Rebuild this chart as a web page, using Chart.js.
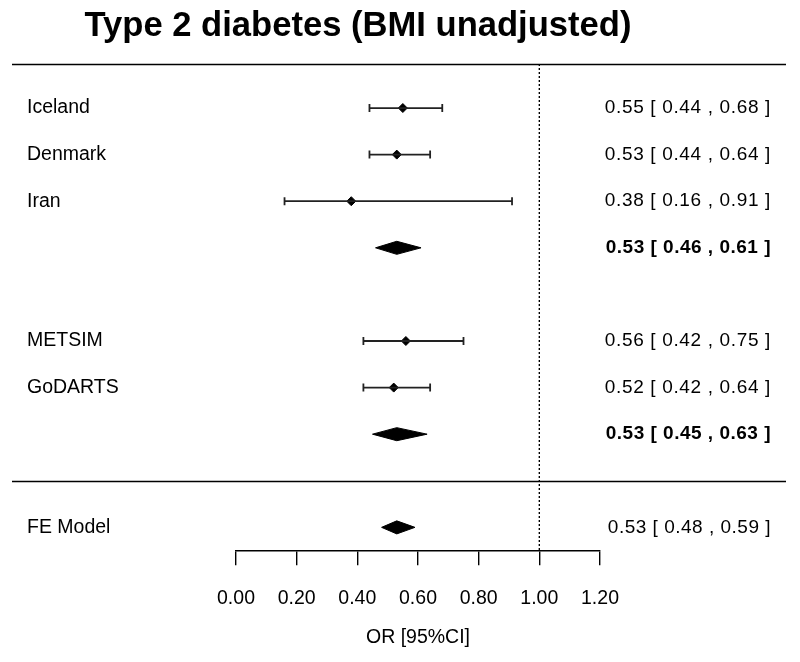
<!DOCTYPE html>
<html>
<head>
<meta charset="utf-8">
<title>Type 2 diabetes (BMI unadjusted)</title>
<script src="https://cdn.jsdelivr.net/npm/chart.js@4.4.1/dist/chart.umd.min.js"></script>
<style>
  html, body { margin: 0; padding: 0; background: #fff; }
  canvas { display: block; }
</style>
</head>
<body>
<canvas id="myChart" width="800" height="662"></canvas>
<script>
// study level odds ratios with 95% CI
var studies   = ['Iceland', 'Denmark', 'Iran', 'METSIM', 'GoDARTS'];
var studyOR   = [0.55, 0.53, 0.38, 0.56, 0.52];
var studyLo   = [0.44, 0.44, 0.16, 0.42, 0.42];
var studyHi   = [0.68, 0.64, 0.91, 0.75, 0.64];
var studyRows = [0, 1, 2, 5, 6];

// pooled estimates (two subgroups + fixed effect model)
var pooledLabels = ['', '', 'FE Model'];
var pooledOR     = [0.53, 0.53, 0.53];
var pooledLo     = [0.46, 0.45, 0.48];
var pooledHi     = [0.61, 0.63, 0.59];
var pooledRows   = [3, 7, 9];
var pooledBold   = [true, true, false];

var xTicks = [0, 0.2, 0.4, 0.6, 0.8, 1.0, 1.2];
var refOR = 1;
var rowTop = -0.945, rowBottom = 9.49, separatorRow = 8;

var FONT = '"Liberation Sans", Arial, Helvetica, sans-serif';
var diamondHalf = 0.14;

function ciText(est, lo, hi) {
    return est.toFixed(2) + ' [ ' + lo.toFixed(2) + ' , ' + hi.toFixed(2) + ' ]';
}

var datasets = [];

// reference line at OR = 1
datasets.push({
    data: [{x: refOR, y: rowTop}, {x: refOR, y: rowBottom}],
    showLine: true,
    borderColor: '#000',
    borderWidth: 1.4,
    borderDash: [2, 2],
    pointRadius: 0
});

// confidence intervals with end caps, and the point estimate
studies.forEach(function (name, i) {
    datasets.push({
        data: [{x: studyLo[i], y: studyRows[i]}, {x: studyHi[i], y: studyRows[i]}],
        showLine: true,
        borderColor: '#222',
        borderWidth: 1.8,
        pointStyle: 'line',
        pointRotation: 90,
        pointRadius: 4,
        pointBorderWidth: 1.8,
        pointBorderColor: '#222'
    });
    datasets.push({
        data: [{x: studyOR[i], y: studyRows[i]}],
        pointStyle: 'rectRot',
        pointRadius: 4.5,
        pointBackgroundColor: '#000',
        pointBorderColor: '#000',
        pointBorderWidth: 1
    });
});

// summary diamonds
pooledOR.forEach(function (est, i) {
    var r = pooledRows[i];
    datasets.push({
        data: [
            {x: pooledLo[i], y: r},
            {x: est, y: r - diamondHalf},
            {x: pooledHi[i], y: r},
            {x: est, y: r + diamondHalf},
            {x: pooledLo[i], y: r}
        ],
        showLine: true,
        fill: 'shape',
        backgroundColor: '#000',
        borderColor: '#000',
        borderWidth: 1,
        pointRadius: 0
    });
});

// text columns, separators and main title
var forestText = {
    id: 'forestText',
    afterDraw: function (chart) {
        var ctx = chart.ctx;
        var ys = chart.scales.y;
        ctx.save();
        ctx.fillStyle = '#000';
        ctx.strokeStyle = '#000';

        ctx.lineWidth = 1.6;
        [rowTop, separatorRow].forEach(function (r) {
            var py = Math.round(ys.getPixelForValue(r)) + 0.5;
            ctx.beginPath();
            ctx.moveTo(12, py);
            ctx.lineTo(786, py);
            ctx.stroke();
        });

        ctx.textBaseline = 'middle';
        studies.forEach(function (name, i) {
            var py = ys.getPixelForValue(studyRows[i]);
            ctx.letterSpacing = '0px';
            ctx.font = '19.5px ' + FONT;
            ctx.textAlign = 'left';
            ctx.fillText(name, 27, py);
            ctx.letterSpacing = '0.65px';
            ctx.font = '19px ' + FONT;
            ctx.textAlign = 'right';
            ctx.fillText(ciText(studyOR[i], studyLo[i], studyHi[i]), 771, py);
        });
        pooledOR.forEach(function (est, i) {
            var py = ys.getPixelForValue(pooledRows[i]);
            ctx.letterSpacing = '0px';
            ctx.font = '19.5px ' + FONT;
            ctx.textAlign = 'left';
            ctx.fillText(pooledLabels[i], 27, py);
            ctx.letterSpacing = '0.5px';
            ctx.font = (pooledBold[i] ? 'bold ' : '') + '19px ' + FONT;
            ctx.textAlign = 'right';
            ctx.fillText(ciText(est, pooledLo[i], pooledHi[i]), 771, py);
        });

        ctx.letterSpacing = '0px';
        ctx.font = 'bold 34.6px ' + FONT;
        ctx.textAlign = 'center';
        ctx.fillText('Type 2 diabetes (BMI unadjusted)', 358, 26);
        ctx.restore();
    }
};

var ctx = document.getElementById('myChart').getContext('2d');
var chart = new Chart(ctx, {
    type: 'scatter',
    data: {datasets: datasets},
    options: {
        responsive: false,
        animation: false,
        layout: {padding: {left: 236, right: 200, top: 64, bottom: 9}},
        plugins: {legend: {display: false}, tooltip: {enabled: false}},
        scales: {
            x: {
                type: 'linear',
                min: 0,
                max: 1.2,
                afterBuildTicks: function (scale) {
                    scale.ticks = xTicks.map(function (v) { return {value: v}; });
                },
                border: {display: true, color: '#000', width: 1.4},
                grid: {display: true, drawOnChartArea: false, drawTicks: true, tickLength: 15, color: '#000', lineWidth: 1.4},
                ticks: {
                    color: '#000',
                    padding: 22,
                    maxRotation: 0,
                    autoSkip: false,
                    font: {family: FONT, size: 19.5},
                    callback: function (v) { return Number(v).toFixed(2); }
                },
                title: {
                    display: true,
                    text: 'OR [95%CI]',
                    color: '#000',
                    font: {family: FONT, size: 19.5},
                    padding: {top: -7, bottom: 4}
                }
            },
            y: {
                type: 'linear',
                display: false,
                reverse: true,
                min: rowTop,
                max: rowBottom
            }
        }
    },
    plugins: [forestText]
});
</script>
</body>
</html>
